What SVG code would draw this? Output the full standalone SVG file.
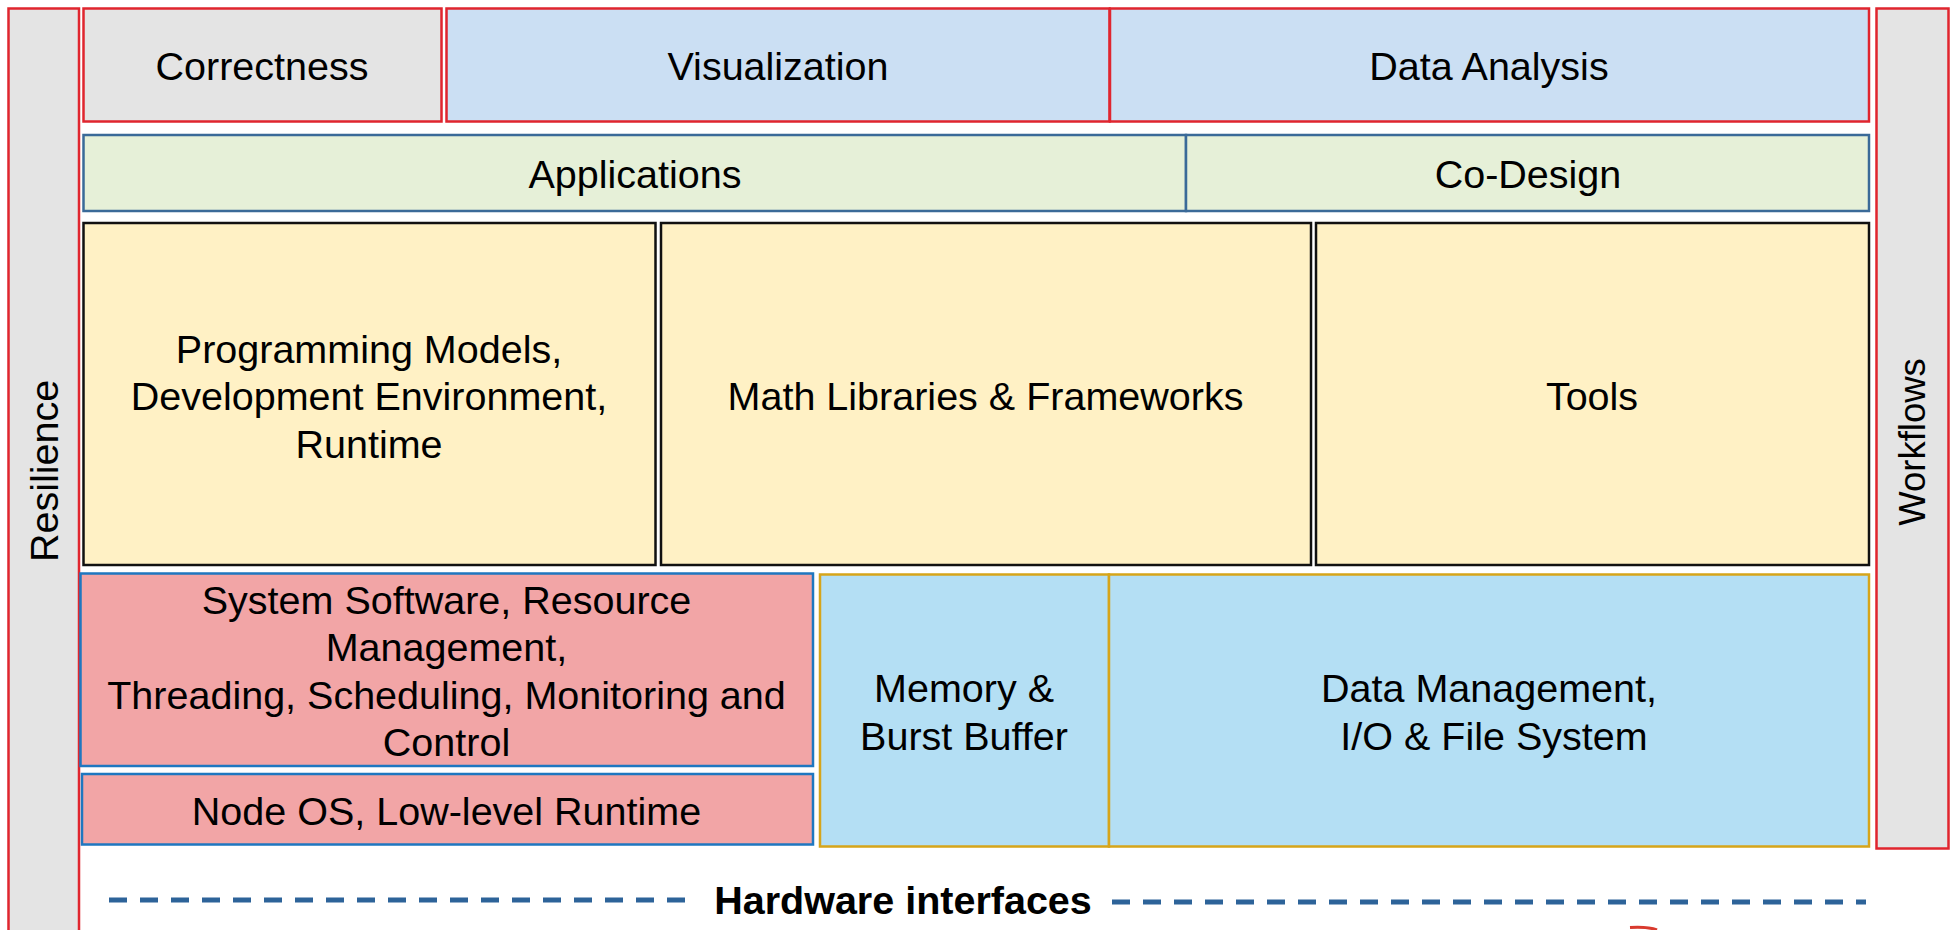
<svg xmlns="http://www.w3.org/2000/svg" width="1956" height="930" viewBox="0 0 1956 930">
<style>
text{font-family:"Liberation Sans",Arial,sans-serif;font-size:39.5px;fill:#000;text-anchor:middle}
.bold{font-weight:bold}
.gray{fill:#e4e4e4;stroke:#e0252e;stroke-width:2.5}
.top{fill:#cbdff3;stroke:#e0252e;stroke-width:2.5}
.grn{fill:#e6f0d8;stroke:#3a6a98;stroke-width:2.5}
.yel{fill:#fff1c5;stroke:#111;stroke-width:2.5}
.pink{fill:#f2a5a6;stroke:#1f77c0;stroke-width:2.5}
.blu{fill:#b4dff4;stroke:#d6a51a;stroke-width:2.5}
.dash{stroke:#2d6399;stroke-width:5;stroke-dasharray:18 13;fill:none}
</style>
<rect width="1956" height="930" fill="#fff"/>
<g id="resilience"><rect class="gray" x="8.5" y="8.5" width="70.5" height="940"/><text transform="translate(58,471) rotate(-90)">Resilience</text></g>
<g id="workflows"><rect class="gray" x="1876.5" y="8.5" width="72" height="840"/><text transform="translate(1925,442) rotate(-90)" style="font-size:36.5px">Workflows</text></g>
<g id="correctness"><rect class="gray" x="83.5" y="8.5" width="358" height="113"/><text x="262" y="80">Correctness</text></g>
<g id="visualization"><rect class="top" x="446.5" y="8.5" width="663" height="113"/><text x="778" y="80">Visualization</text></g>
<g id="data-analysis"><rect class="top" x="1110" y="8.5" width="759" height="113"/><text x="1489" y="80">Data Analysis</text></g>
<g id="applications"><rect class="grn" x="83.5" y="135" width="1102.5" height="76"/><text x="635" y="188">Applications</text></g>
<g id="co-design"><rect class="grn" x="1186" y="135" width="683" height="76"/><text x="1528" y="188">Co-Design</text></g>
<g id="programming"><rect class="yel" x="83.5" y="223" width="572" height="342"/><text x="369" y="363">Programming Models,</text><text x="369" y="410">Development Environment,</text><text x="369" y="458">Runtime</text></g>
<g id="math"><rect class="yel" x="661" y="223" width="650" height="342"/><text x="985.5" y="410">Math Libraries &amp; Frameworks</text></g>
<g id="tools"><rect class="yel" x="1316" y="223" width="553" height="342"/><text x="1592" y="410">Tools</text></g>
<g id="system-software"><rect class="pink" x="80.5" y="573.5" width="732.5" height="192.5"/><text x="446.5" y="614">System Software, Resource</text><text x="446.5" y="661">Management,</text><text x="446.5" y="709">Threading, Scheduling, Monitoring and</text><text x="446.5" y="756">Control</text></g>
<g id="node-os"><rect class="pink" x="82" y="774" width="731" height="70.5"/><text x="446.5" y="825">Node OS, Low-level Runtime</text></g>
<g id="memory"><rect class="blu" x="820" y="574.5" width="289" height="272"/><text x="964" y="702">Memory &amp;</text><text x="964" y="750">Burst Buffer</text></g>
<g id="data-management"><rect class="blu" x="1109" y="574.5" width="760" height="272"/><text x="1489" y="702">Data Management,</text><text x="1494" y="750">I/O &amp; File System</text></g>
<g id="connectors">
<line class="dash" x1="109" y1="900" x2="697" y2="900"/>
<line class="dash" x1="1112" y1="902" x2="1866" y2="902"/>
<path d="M1630,927.5 Q1648,926.5 1657,930" fill="none" stroke="#d93a2e" stroke-width="3"/>
</g>
<g id="hardware"><text class="bold" x="903" y="914">Hardware interfaces</text></g>
</svg>
